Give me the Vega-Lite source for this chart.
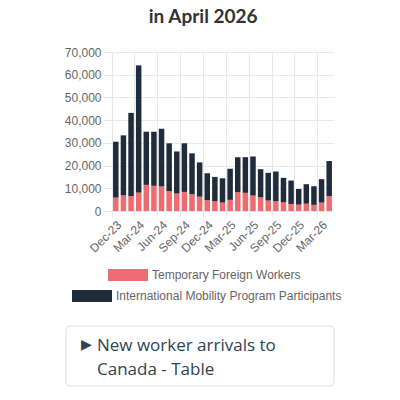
{
  "$schema": "https://vega.github.io/schema/vega-lite/v6.json",
  "background": "white",
  "padding": {"left": 64, "top": 8, "right": 0, "bottom": 0},
  "title": {"text": "in April 2026", "font": "Lato", "fontSize": 19, "fontWeight": "bold", "color": "#333333", "anchor": "middle", "offset": 19},
  "datasets": {
    "arrivals": [
      {"month": "Dec-23", "series": "Temporary Foreign Workers", "value": 5900},
      {"month": "Dec-23", "series": "International Mobility Program Participants", "value": 24600},
      {"month": "Jan-24", "series": "Temporary Foreign Workers", "value": 6900},
      {"month": "Jan-24", "series": "International Mobility Program Participants", "value": 26400},
      {"month": "Feb-24", "series": "Temporary Foreign Workers", "value": 6600},
      {"month": "Feb-24", "series": "International Mobility Program Participants", "value": 36600},
      {"month": "Mar-24", "series": "Temporary Foreign Workers", "value": 8100},
      {"month": "Mar-24", "series": "International Mobility Program Participants", "value": 56000},
      {"month": "Apr-24", "series": "Temporary Foreign Workers", "value": 11500},
      {"month": "Apr-24", "series": "International Mobility Program Participants", "value": 23400},
      {"month": "May-24", "series": "Temporary Foreign Workers", "value": 11100},
      {"month": "May-24", "series": "International Mobility Program Participants", "value": 23800},
      {"month": "Jun-24", "series": "Temporary Foreign Workers", "value": 10800},
      {"month": "Jun-24", "series": "International Mobility Program Participants", "value": 25400},
      {"month": "Jul-24", "series": "Temporary Foreign Workers", "value": 8800},
      {"month": "Jul-24", "series": "International Mobility Program Participants", "value": 21000},
      {"month": "Aug-24", "series": "Temporary Foreign Workers", "value": 7700},
      {"month": "Aug-24", "series": "International Mobility Program Participants", "value": 18500},
      {"month": "Sep-24", "series": "Temporary Foreign Workers", "value": 8400},
      {"month": "Sep-24", "series": "International Mobility Program Participants", "value": 21400},
      {"month": "Oct-24", "series": "Temporary Foreign Workers", "value": 7400},
      {"month": "Oct-24", "series": "International Mobility Program Participants", "value": 18000},
      {"month": "Nov-24", "series": "Temporary Foreign Workers", "value": 6300},
      {"month": "Nov-24", "series": "International Mobility Program Participants", "value": 15100},
      {"month": "Dec-24", "series": "Temporary Foreign Workers", "value": 4700},
      {"month": "Dec-24", "series": "International Mobility Program Participants", "value": 11900},
      {"month": "Jan-25", "series": "Temporary Foreign Workers", "value": 4300},
      {"month": "Jan-25", "series": "International Mobility Program Participants", "value": 10700},
      {"month": "Feb-25", "series": "Temporary Foreign Workers", "value": 3700},
      {"month": "Feb-25", "series": "International Mobility Program Participants", "value": 10700},
      {"month": "Mar-25", "series": "Temporary Foreign Workers", "value": 4900},
      {"month": "Mar-25", "series": "International Mobility Program Participants", "value": 13700},
      {"month": "Apr-25", "series": "Temporary Foreign Workers", "value": 8200},
      {"month": "Apr-25", "series": "International Mobility Program Participants", "value": 15500},
      {"month": "May-25", "series": "Temporary Foreign Workers", "value": 8000},
      {"month": "May-25", "series": "International Mobility Program Participants", "value": 15700},
      {"month": "Jun-25", "series": "Temporary Foreign Workers", "value": 6800},
      {"month": "Jun-25", "series": "International Mobility Program Participants", "value": 17200},
      {"month": "Jul-25", "series": "Temporary Foreign Workers", "value": 6000},
      {"month": "Jul-25", "series": "International Mobility Program Participants", "value": 12400},
      {"month": "Aug-25", "series": "Temporary Foreign Workers", "value": 4600},
      {"month": "Aug-25", "series": "International Mobility Program Participants", "value": 12200},
      {"month": "Sep-25", "series": "Temporary Foreign Workers", "value": 4300},
      {"month": "Sep-25", "series": "International Mobility Program Participants", "value": 13100},
      {"month": "Oct-25", "series": "Temporary Foreign Workers", "value": 3800},
      {"month": "Oct-25", "series": "International Mobility Program Participants", "value": 10800},
      {"month": "Nov-25", "series": "Temporary Foreign Workers", "value": 3100},
      {"month": "Nov-25", "series": "International Mobility Program Participants", "value": 10300},
      {"month": "Dec-25", "series": "Temporary Foreign Workers", "value": 2800},
      {"month": "Dec-25", "series": "International Mobility Program Participants", "value": 6900},
      {"month": "Jan-26", "series": "Temporary Foreign Workers", "value": 3200},
      {"month": "Jan-26", "series": "International Mobility Program Participants", "value": 8600},
      {"month": "Feb-26", "series": "Temporary Foreign Workers", "value": 2700},
      {"month": "Feb-26", "series": "International Mobility Program Participants", "value": 8200},
      {"month": "Mar-26", "series": "Temporary Foreign Workers", "value": 3700},
      {"month": "Mar-26", "series": "International Mobility Program Participants", "value": 10300},
      {"month": "Apr-26", "series": "Temporary Foreign Workers", "value": 6600},
      {"month": "Apr-26", "series": "International Mobility Program Participants", "value": 15400}
    ],
    "link": [
      {"icon": "▶", "label": ["New worker arrivals to", "Canada - Table"]}
    ]
  },
  "spacing": 70,
  "vconcat": [
    {
      "width": 221,
      "height": 159,
      "data": {"name": "arrivals"},
      "mark": {"type": "bar", "width": {"band": 0.72}, "strokeWidth": 0},
      "encoding": {
        "x": {
          "field": "month", "type": "nominal", "sort": null,
          "scale": {"paddingInner": 0, "paddingOuter": 0},
          "axis": {
            "title": null, "labelAngle": -45, "bandPosition": 0,
            "values": ["Dec-23", "Mar-24", "Jun-24", "Sep-24", "Dec-24", "Mar-25", "Jun-25", "Sep-25", "Dec-25", "Mar-26"],
            "grid": true, "tickSize": 6, "labelPadding": 2
          }
        },
        "y": {
          "field": "value", "type": "quantitative", "aggregate": "sum", "stack": "zero",
          "scale": {"domain": [0, 70000], "nice": false},
          "axis": {"title": null, "values": [0, 10000, 20000, 30000, 40000, 50000, 60000, 70000], "format": ",.0f", "tickSize": 9, "labelPadding": 2, "grid": true}
        },
        "order": {"field": "series", "sort": "descending"},
        "color": {
          "field": "series", "type": "nominal",
          "scale": {"domain": ["Temporary Foreign Workers", "International Mobility Program Participants"], "range": ["#ee6b70", "#1e2c3c"]},
          "legend": {
            "values": ["Temporary Foreign Workers"], "orient": "none", "legendX": -4, "legendY": 203, "title": null,
            "symbolType": "M-1,-0.3H1V0.3H-1Z", "symbolSize": 1600, "symbolStrokeWidth": 0, "symbolStrokeColor": "#ee6b70",
            "labelFont": "Liberation Sans", "labelFontSize": 12, "labelColor": "#666666", "labelOffset": 4, "labelLimit": 400
          }
        },
        "stroke": {
          "field": "series", "type": "nominal",
          "scale": {"domain": ["International Mobility Program Participants", "Temporary Foreign Workers"], "range": ["#1e2c3c", "#ee6b70"]},
          "legend": {
            "values": ["International Mobility Program Participants"], "orient": "none", "legendX": -40, "legendY": 224, "title": null,
            "symbolType": "M-1,-0.3H1V0.3H-1Z", "symbolSize": 1600, "symbolStrokeWidth": 0, "symbolFillColor": "#1e2c3c",
            "labelFont": "Liberation Sans", "labelFontSize": 12, "labelColor": "#666666", "labelOffset": 4, "labelLimit": 400
          }
        }
      }
    },
    {
      "width": 222,
      "height": 60,
      "data": {"name": "link"},
      "layer": [
        {
          "mark": {"type": "rect", "fill": "white", "stroke": "#dddddd", "strokeWidth": 1, "cornerRadius": 4},
          "encoding": {
            "x": {"datum": 0, "type": "quantitative", "scale": {"domain": [0, 268], "range": [-46, 222], "nice": false, "zero": false}, "axis": null},
            "x2": {"datum": 268}
          }
        },
        {
          "mark": {"type": "text", "align": "left", "baseline": "middle", "dy": -11, "font": "DejaVu Sans", "fontSize": 14, "color": "#2d4454"},
          "encoding": {
            "x": {"datum": 15, "type": "quantitative"},
            "text": {"field": "icon", "type": "nominal"}
          }
        },
        {
          "mark": {"type": "text", "align": "left", "baseline": "middle", "dy": -10, "font": "Open Sans", "fontSize": 17, "lineHeight": 24, "color": "#2d4454"},
          "encoding": {
            "x": {"datum": 31, "type": "quantitative"},
            "text": {"field": "label", "type": "nominal"}
          }
        }
      ]
    }
  ],
  "config": {
    "view": {"stroke": null},
    "font": "Liberation Sans",
    "axis": {
      "labelFont": "Liberation Sans", "labelFontSize": 12, "labelColor": "#666666",
      "gridColor": "#e8e8e8", "domainColor": "#e8e8e8", "tickColor": "#e8e8e8"
    }
  }
}
